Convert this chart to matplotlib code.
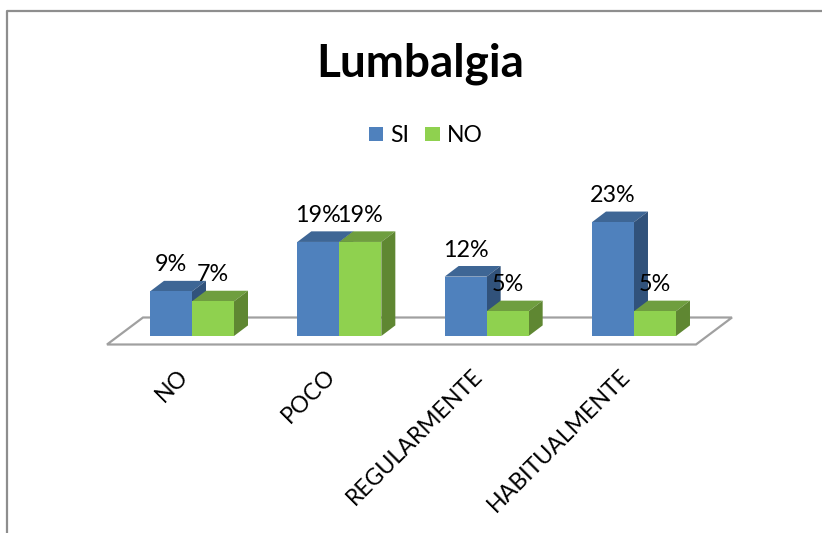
import matplotlib
matplotlib.use("Agg")
import matplotlib.pyplot as plt
from matplotlib.patches import Polygon
from matplotlib.lines import Line2D
from matplotlib.transforms import ScaledTranslation

categories = ["NO", "POCO", "REGULARMENTE", "HABITUALMENTE"]
si_values = [9, 19, 12, 23]
no_values = [7, 19, 5, 5]
series_names = ["SI", "NO"]

W, H = 822, 533
PX_PER_CAT = 147.33
PX_PER_PCT = 4.95
BASE_Y = 336
FIRST_X = 192
BAR_W = 42 / PX_PER_CAT
DX = 14 / PX_PER_CAT
DY = 10.6 / PX_PER_PCT

BLUE = ("#4F81BD", "#3E6695", "#31527B")
GREEN = ("#8FD14F", "#6F9E3F", "#5F8732")

plt.rcParams["font.family"] = ["Lato", "DejaVu Sans"]
fig = plt.figure(figsize=(W / 100, H / 100), dpi=100, facecolor="white")


def fx(x):
    return x / W


def fy(y):
    return 1 - y / H


# Axes span the figure width and sit on the bar baseline
ax = fig.add_axes([0, fy(BASE_Y), 1, BASE_Y / H])
ax.set_xlim(-FIRST_X / PX_PER_CAT, (W - FIRST_X) / PX_PER_CAT)
ax.set_ylim(0, BASE_Y / PX_PER_PCT)
ax.patch.set_visible(False)
for s in ax.spines.values():
    s.set_visible(False)
ax.set_yticks([])

# Chart area border (left and top edges) and the perspective floor
GREY = "#8E8E8E"
fig.add_artist(Line2D([fx(7), fx(7), fx(W)], [fy(H), fy(11), fy(11)], color=GREY, lw=1.6))
ax.add_patch(Polygon([(fx(107), fy(344.5)), (fx(143), fy(317.5)), (fx(732), fy(317.5)), (fx(696), fy(344.5))],
                     closed=True, transform=fig.transFigure, facecolor="white", edgecolor="#A0A0A0",
                     lw=1.6, clip_on=False, zorder=1))


def draw_series(positions, values, palette, name, z):
    ax.bar(positions, values, width=BAR_W, color=palette[0], label=name, zorder=z + 0.2, clip_on=False)
    for p, v in zip(positions, values):
        x0, x1 = p - BAR_W / 2, p + BAR_W / 2
        ax.add_patch(Polygon([(x0, v), (x1, v), (x1 + DX, v + DY), (x0 + DX, v + DY)],
                             closed=True, facecolor=palette[1], edgecolor="none", zorder=z))
        ax.add_patch(Polygon([(x1, 0), (x1 + DX, DY), (x1 + DX, v + DY), (x1, v)],
                             closed=True, facecolor=palette[2], edgecolor="none", zorder=z))


xs = list(range(len(categories)))
si_x = [x - BAR_W / 2 for x in xs]
no_x = [x + BAR_W / 2 for x in xs]
draw_series(si_x, si_values, BLUE, series_names[0], 2)
draw_series(no_x, no_values, GREEN, series_names[1], 3)

# Percentage labels centred over each bar
for px, vals in ((si_x, si_values), (no_x, no_values)):
    for p, v in zip(px, vals):
        ax.annotate(f"{v}%", (p, v), xytext=(0, 26.5 * 0.72), textcoords="offset points",
                    ha="center", va="center", fontsize=16.8, color="black", zorder=6)

ax.set_xticks(xs)
ax.set_xticklabels(categories, rotation=45, ha="right", va="top", rotation_mode="anchor",
                   fontsize=16.6, color="black")
ax.tick_params(axis="x", length=0, pad=21)
shift = ScaledTranslation(-15 / 100, 0, fig.dpi_scale_trans)
for lab in ax.get_xticklabels():
    lab.set_transform(lab.get_transform() + shift)

fig.text(fx(420.5), fy(64), "Lumbalgia", ha="center", va="center", fontsize=33, fontweight="bold", color="black")

fig.legend(loc="center", bbox_to_anchor=(fx(425.5), fy(135.5)), ncol=2, frameon=False, fontsize=16.5,
           handlelength=0.62, handleheight=0.62, handletextpad=0.3, columnspacing=0.72, borderpad=0)

fig.savefig("out.png", dpi=100)
